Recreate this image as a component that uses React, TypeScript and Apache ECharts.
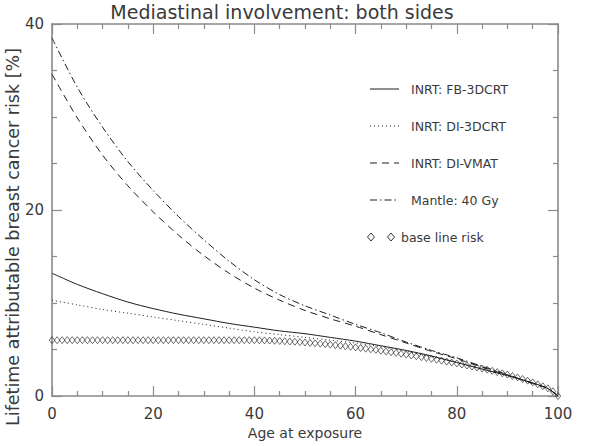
import React, { useEffect, useRef } from "react";
import * as echarts from "echarts";

const ages = [0, 5, 10, 15, 20, 25, 30, 35, 40, 45, 50, 55, 60, 65, 70, 75, 80, 85, 90, 95, 98, 100];
const fb3dcrt = [13.2, 12.0, 11.0, 10.1, 9.4, 8.8, 8.3, 7.8, 7.4, 7.0, 6.7, 6.3, 5.9, 5.4, 4.9, 4.3, 3.6, 2.9, 2.2, 1.4, 0.8, 0];
const di3dcrt = [10.3, 9.8, 9.3, 8.9, 8.5, 8.1, 7.7, 7.3, 6.9, 6.6, 6.3, 6.0, 5.7, 5.3, 4.8, 4.2, 3.6, 2.9, 2.2, 1.4, 0.8, 0];
const divmat = [34.6, 29.9, 25.9, 22.6, 19.8, 17.3, 15.1, 13.2, 11.6, 10.3, 9.2, 8.3, 7.5, 6.6, 5.7, 4.8, 4.0, 3.1, 2.25, 1.35, 0.8, 0];
const mantle = [38.5, 33.2, 28.9, 25.2, 22.1, 19.3, 16.8, 14.5, 12.5, 10.9, 9.7, 8.7, 7.7, 6.8, 5.8, 4.9, 4.1, 3.2, 2.3, 1.35, 0.8, 0];

// base line risk, one value per year of age 0..100
const baseAges = Array.from({ length: 101 }, (_, i) => i);
const baseline = [
  6.0, 6.0, 6.0, 6.0, 6.0, 6.0, 6.0, 6.0, 6.0, 6.0,
  6.0, 6.0, 6.0, 6.0, 6.0, 6.0, 6.0, 6.0, 6.0, 6.0,
  6.0, 6.0, 6.0, 6.0, 6.0, 6.0, 6.0, 6.0, 6.0, 6.0,
  6.0, 6.0, 6.0, 6.0, 6.0, 6.0, 6.0, 6.0, 6.0, 6.0,
  6.0, 5.99, 5.98, 5.96, 5.94, 5.92, 5.89, 5.86, 5.83, 5.79,
  5.75, 5.71, 5.67, 5.62, 5.57, 5.52, 5.47, 5.41, 5.35, 5.29,
  5.23, 5.16, 5.09, 5.02, 4.95, 4.87, 4.79, 4.71, 4.63, 4.54,
  4.45, 4.36, 4.27, 4.18, 4.09, 4.0, 3.9, 3.8, 3.7, 3.6,
  3.5, 3.39, 3.28, 3.17, 3.06, 2.95, 2.83, 2.7, 2.57, 2.44,
  2.3, 2.15, 2.0, 1.83, 1.65, 1.46, 1.26, 1.05, 0.82, 0.5,
  0.0,
];

const xTicks = [0, 20, 40, 60, 80, 100];
const yTicks = [0, 20, 40];

const legendNames = ["INRT: FB-3DCRT", "INRT: DI-3DCRT", "INRT: DI-VMAT", "Mantle: 40 Gy", "base line risk"];

const FONT = "DejaVu Sans";
const TXT = "#3a3a3a";
const AX = "#8a8a8a";
const LINE = "#1e1e1e";

const dashes: (number[] | null)[] = [null, [1, 3], [7, 5], [7, 3, 1.5, 3]];

export default function App() {
  const ref = useRef<HTMLDivElement>(null);
  useEffect(() => {
    if (!ref.current) return;
    const chart = echarts.init(ref.current, undefined, { renderer: "svg" });
    const pair = (ys: number[], xs: number[]) => xs.map((x, i) => [x, ys[i]]);
    const axisCommon = (isX: boolean, showLabel: boolean, position: string) => ({
      type: "value",
      position,
      min: 0,
      max: isX ? xTicks[xTicks.length - 1] : yTicks[yTicks.length - 1],
      interval: 20,
      axisLine: { show: true, onZero: false, lineStyle: { color: AX, width: 1.6 } },
      axisTick: { show: true, inside: true, length: 10, lineStyle: { color: AX, width: 1.2 } },
      minorTick: { show: true, splitNumber: 4, length: 5, lineStyle: { color: AX, width: 1.2 } },
      splitLine: { show: false },
      minorSplitLine: { show: false },
      axisLabel: {
        show: showLabel,
        margin: isX ? 10 : 8,
        fontSize: 15,
        fontFamily: FONT,
        color: TXT,
      },
    });
    const lineSeries = (name: string, ys: number[], dash: number[] | null) => ({
      name,
      type: "line",
      data: pair(ys, ages),
      smooth: 0.3,
      showSymbol: false,
      symbol: "none",
      lineStyle: { color: LINE, width: 1, type: dash ? dash : "solid" },
      z: 3,
    });
    const legendYs = [89, 126, 163, 200, 237];
    const lx1 = 370;
    const lx2 = 399;
    const tx = 411;
    const graphics: any[] = [];
    for (let i = 0; i < 4; i++) {
      graphics.push({
        type: "line",
        shape: { x1: lx1, y1: legendYs[i], x2: lx2, y2: legendYs[i] },
        style: { stroke: LINE, lineWidth: 1, lineDash: dashes[i] || undefined },
      });
      graphics.push({
        type: "text",
        x: tx,
        y: legendYs[i],
        style: { text: legendNames[i], fontSize: 12.5, fontFamily: FONT, fill: TXT, verticalAlign: "middle" },
      });
    }
    [371, 391].forEach((cx) => {
      const cy = legendYs[4];
      graphics.push({
        type: "polygon",
        shape: { points: [[cx, cy - 4], [cx + 3.5, cy], [cx, cy + 4], [cx - 3.5, cy]] },
        style: { fill: "none", stroke: LINE, lineWidth: 0.9 },
      });
    });
    graphics.push({
      type: "text",
      x: 401,
      y: legendYs[4],
      style: { text: legendNames[4], fontSize: 12.5, fontFamily: FONT, fill: TXT, verticalAlign: "middle" },
    });
    graphics.push({
      type: "text",
      x: 13,
      y: 237,
      rotation: Math.PI / 2,
      style: {
        text: "Lifetime attributable breast cancer risk [%]",
        fontSize: 17.5,
        fontFamily: FONT,
        fill: TXT,
        align: "center",
        verticalAlign: "middle",
      },
    });

    chart.setOption({
      animation: false,
      backgroundColor: "#ffffff",
      title: {
        text: "Mediastinal involvement: both sides",
        left: 282,
        top: 2,
        padding: 0,
        textAlign: "center",
        textStyle: { fontSize: 19, fontWeight: "normal", fontFamily: FONT, color: TXT },
      },
      grid: { left: 52, right: 42, top: 24, bottom: 50, containLabel: false },
      xAxis: [
        {
          ...axisCommon(true, true, "bottom"),
          name: "Age at exposure",
          nameLocation: "middle",
          nameGap: 30,
          nameTextStyle: { fontSize: 14, fontFamily: FONT, color: TXT },
        },
        axisCommon(true, false, "top"),
      ],
      yAxis: [axisCommon(false, true, "left"), axisCommon(false, false, "right")],
      series: [
        lineSeries(legendNames[0], fb3dcrt, null),
        lineSeries(legendNames[1], di3dcrt, dashes[1]),
        lineSeries(legendNames[2], divmat, dashes[2]),
        lineSeries(legendNames[3], mantle, dashes[3]),
        {
          name: legendNames[4],
          type: "scatter",
          data: pair(baseline, baseAges),
          symbol: "diamond",
          symbolSize: [5.5, 7],
          itemStyle: { color: "rgba(0,0,0,0)", borderColor: LINE, borderWidth: 0.8 },
          z: 4,
        },
      ],
      graphic: graphics,
    });
    return () => chart.dispose();
  }, []);
  return <div ref={ref} style={{ position: "absolute", left: 0, top: 0, width: 600, height: 446 }} />;
}
